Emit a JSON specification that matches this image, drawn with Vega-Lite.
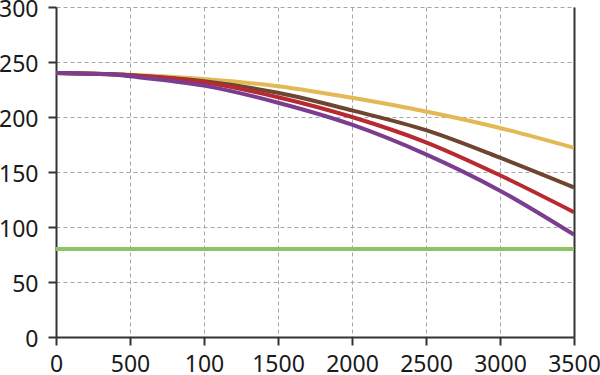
{
  "$schema": "https://vega.github.io/schema/vega-lite/v6.json",
  "autosize": "none",
  "width": 518,
  "height": 330,
  "padding": {"left": 56, "top": 7, "right": 26, "bottom": 38},
  "background": "white",
  "config": {
    "view": {"stroke": null},
    "font": "Noto Sans",
    "axis": {
      "labelFont": "Noto Sans",
      "labelFontSize": 23,
      "labelColor": "#1a1a1a",
      "domainColor": "#333333",
      "domainWidth": 2,
      "tickColor": "#333333",
      "tickWidth": 2,
      "tickSize": 8,
      "gridColor": "#a6a6a6",
      "gridDash": [4, 3],
      "gridWidth": 1,
      "title": null
    }
  },
  "datasets": {
    "curves": [
      {"x": 0, "y": 240, "s": "A"},
      {"x": 500, "y": 238.5, "s": "A"},
      {"x": 1000, "y": 234.5, "s": "A"},
      {"x": 1500, "y": 228, "s": "A"},
      {"x": 2000, "y": 217.5, "s": "A"},
      {"x": 2500, "y": 205, "s": "A"},
      {"x": 3000, "y": 190, "s": "A"},
      {"x": 3500, "y": 172, "s": "A"},
      {"x": 0, "y": 240, "s": "B"},
      {"x": 500, "y": 238, "s": "B"},
      {"x": 1000, "y": 232.5, "s": "B"},
      {"x": 1500, "y": 222, "s": "B"},
      {"x": 2000, "y": 206, "s": "B"},
      {"x": 2500, "y": 188, "s": "B"},
      {"x": 3000, "y": 163, "s": "B"},
      {"x": 3500, "y": 136, "s": "B"},
      {"x": 0, "y": 240, "s": "C"},
      {"x": 500, "y": 238, "s": "C"},
      {"x": 1000, "y": 231.5, "s": "C"},
      {"x": 1500, "y": 218, "s": "C"},
      {"x": 2000, "y": 200, "s": "C"},
      {"x": 2500, "y": 177, "s": "C"},
      {"x": 3000, "y": 147, "s": "C"},
      {"x": 3500, "y": 113.5, "s": "C"},
      {"x": 0, "y": 240, "s": "D"},
      {"x": 350, "y": 239, "s": "D"},
      {"x": 500, "y": 237, "s": "D"},
      {"x": 1000, "y": 228.5, "s": "D"},
      {"x": 1500, "y": 213, "s": "D"},
      {"x": 2000, "y": 193, "s": "D"},
      {"x": 2500, "y": 166, "s": "D"},
      {"x": 3000, "y": 133, "s": "D"},
      {"x": 3500, "y": 93, "s": "D"},
      {"x": 0, "y": 80, "s": "E"},
      {"x": 3500, "y": 80, "s": "E"}
    ]
  },
  "data": {"name": "curves"},
  "layer": [
    {
      "mark": {"type": "line", "strokeWidth": 4, "interpolate": "monotone", "clip": true},
      "encoding": {
        "x": {
          "field": "x", "type": "quantitative",
          "scale": {"domain": [0, 3500], "nice": false},
          "axis": {"values": [0, 500, 1000, 1500, 2000, 2500, 3000, 3500], "labelPadding": 8, "labelFlush": false, "labelOverlap": false, "labelExpr": "datum.value == 1000 ? '100' : datum.label", "format": "d"}
        },
        "y": {
          "field": "y", "type": "quantitative",
          "scale": {"domain": [0, 300], "nice": false},
          "axis": {"values": [0, 50, 100, 150, 200, 250, 300], "labelPadding": 10, "labelOffset": 2, "labelFlush": false, "labelOverlap": false, "orient": "left"}
        },
        "color": {
          "field": "s", "type": "nominal", "legend": null,
          "scale": {"domain": ["A", "B", "C", "D", "E"], "range": ["#e2b955", "#6e4531", "#b82a32", "#7b3d90", "#8cc465"]}
        },
        "order": {"field": "x"}
      }
    },
    {
      "mark": {"type": "rule", "opacity": 0},
      "encoding": {
        "y": {
          "field": "y", "type": "quantitative",
          "scale": {"domain": [0, 300], "nice": false},
          "axis": {"orient": "right", "labels": false, "ticks": false, "grid": false, "domainColor": "#333333", "domainWidth": 2}
        }
      }
    }
  ],
  "resolve": {"axis": {"y": "independent"}}
}
